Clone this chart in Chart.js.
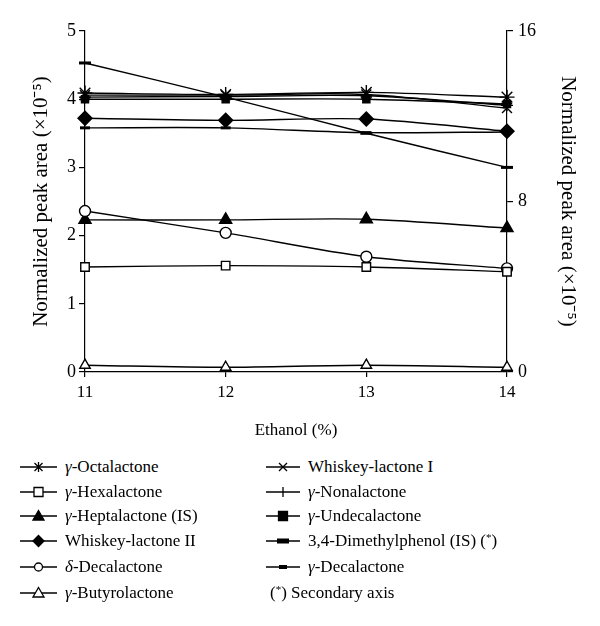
<!DOCTYPE html>
<html>
<head>
<meta charset="utf-8">
<script src="https://cdn.jsdelivr.net/npm/chart.js@4"></script>
<style>
  body { margin: 0; background: #fff; }
  #wrap { position: relative; width: 600px; height: 626px; font-family: "Liberation Serif", serif; }
  #chartBox { position: absolute; left: 0; top: 0; width: 600px; height: 445px; }
  .item { position: absolute; height: 22px; display: flex; align-items: center; font-size: 17px; color: #000; white-space: nowrap; }
  .item canvas { margin-right: 8px; }
  .item i { font-style: italic; }
  .item sup { font-size: 11px; vertical-align: 5px; }
</style>
</head>
<body>
<div id="wrap">
  <div id="chartBox"><canvas id="peakChart"></canvas></div>
  <div id="legend"></div>
</div>
<script>
const ethanol = ["11", "12", "13", "14"];

// left axis (x10^-5)
const octalactone = [4.09, 4.07, 4.10, 4.03];
const hexalactone = [1.54, 1.56, 1.54, 1.47];
const heptalactone = [2.23, 2.23, 2.24, 2.11];
const whiskeyLactone2 = [3.72, 3.69, 3.71, 3.53];
const deltaDecalactone = [2.36, 2.04, 1.69, 1.52];
const butyrolactone = [0.10, 0.07, 0.10, 0.07];
const whiskeyLactone1 = [4.06, 4.06, 4.07, 3.87];
const nonalactone = [4.03, 4.04, 4.05, 3.91];
const undecalactone = [4.00, 4.00, 4.00, 3.93];
const gammaDecalactone = [3.58, 3.58, 3.51, 3.52];
// secondary axis
const dimethylphenol = [14.5, 12.9, 11.2, 9.6];

const leftTicks = [0, 1, 2, 3, 4, 5];
const rightTicks = [0, 8, 16];

const serif = "'Liberation Serif', serif";

function series(label, data, style, filled, radius, axis) {
  return {
    label: label,
    data: data,
    yAxisID: axis || "y",
    borderColor: "#000",
    backgroundColor: filled ? "#000" : "#fff",
    borderWidth: 1.4,
    tension: 0.3,
    pointStyle: style,
    pointRadius: radius,
    pointBorderWidth: style === "line" ? 3 : 1.4,
    pointHoverRadius: radius,
    fill: false
  };
}

const datasets = [
  series("γ-Butyrolactone", butyrolactone, "triangle", false, 6),
  series("γ-Hexalactone", hexalactone, "rect", false, 6),
  series("δ-Decalactone", deltaDecalactone, "circle", false, 5.5),
  series("γ-Heptalactone (IS)", heptalactone, "triangle", true, 7),
  series("γ-Decalactone", gammaDecalactone, "line", true, 5),
  series("Whiskey-lactone II", whiskeyLactone2, "rectRot", true, 7),
  series("3,4-Dimethylphenol (IS) (*)", dimethylphenol, "line", true, 6, "y2"),
  series("γ-Undecalactone", undecalactone, "rect", true, 5),
  series("γ-Nonalactone", nonalactone, "cross", false, 6),
  series("Whiskey-lactone I", whiskeyLactone1, "crossRot", false, 7),
  series("γ-Octalactone", octalactone, "star", false, 7.5)
];

new Chart(document.getElementById("peakChart"), {
  type: "line",
  data: { labels: ethanol, datasets: datasets },
  options: {
    responsive: true,
    maintainAspectRatio: false,
    animation: false,
    events: [],
    layout: { padding: { top: 31, left: 0, right: 0, bottom: 0 } },
    plugins: { legend: { display: false }, tooltip: { enabled: false } },
    scales: {
      x: {
        type: "category",
        offset: false,
        border: { display: true, color: "#000", width: 1.2 },
        grid: { drawOnChartArea: false, color: "#000", tickLength: 5, lineWidth: 1.2 },
        ticks: { color: "#000", font: { family: serif, size: 17 }, padding: 5, maxRotation: 0 },
        title: { display: true, text: "Ethanol (%)", color: "#000", font: { family: serif, size: 17 }, padding: { top: 0, bottom: 4 } },
        afterFit: function (s) { s.height = 73; }
      },
      y: {
        position: "left",
        min: 0, max: 5,
        afterBuildTicks: function (s) { s.ticks = leftTicks.map(v => ({ value: v })); },
        border: { display: true, color: "#000", width: 1.2 },
        grid: { drawOnChartArea: false, color: "#000", tickLength: 6, lineWidth: 1.2 },
        ticks: { color: "#000", font: { family: serif, size: 18 }, padding: 3 },
        title: { display: true, text: "Normalized peak area (×10⁻⁵)", color: "#000", font: { family: serif, size: 21 }, padding: { top: 29, bottom: 0 } },
        afterFit: function (s) { s.width = 85; }
      },
      y2: {
        position: "right",
        min: 0, max: 16,
        afterBuildTicks: function (s) { s.ticks = rightTicks.map(v => ({ value: v })); },
        border: { display: true, color: "#000", width: 1.2 },
        grid: { drawOnChartArea: false, color: "#000", tickLength: 6, lineWidth: 1.2 },
        ticks: { color: "#000", font: { family: serif, size: 18 }, padding: 5 },
        title: { display: true, text: "Normalized peak area (×10⁻⁵)", color: "#000", font: { family: serif, size: 21 }, padding: { top: 20, bottom: 0 } },
        afterFit: function (s) { s.width = 93; }
      }
    }
  }
});

// legend, drawn by hand so each sample is a line through its marker
const legendLeft = [
  ["<i>γ</i>-Octalactone", "star", false],
  ["<i>γ</i>-Hexalactone", "rect", false],
  ["<i>γ</i>-Heptalactone (IS)", "triangle", true],
  ["Whiskey-lactone II", "rectRot", true],
  ["<i>δ</i>-Decalactone", "circle", false],
  ["<i>γ</i>-Butyrolactone", "triangle", false]
];
const legendRight = [
  ["Whiskey-lactone I", "crossRot", false],
  ["<i>γ</i>-Nonalactone", "cross", false],
  ["<i>γ</i>-Undecalactone", "rect", true],
  ["3,4-Dimethylphenol (IS) (<sup>*</sup>)", "bigDash", true],
  ["<i>γ</i>-Decalactone", "smallDash", true],
  ["(<sup>*</sup>) Secondary axis", null, false]
];
const rowY = [467, 492, 516, 541, 567, 593];

function drawSample(cv, style, filled) {
  const ctx = cv.getContext("2d");
  const w = cv.width, h = cv.height, cx = w / 2, cy = h / 2;
  ctx.strokeStyle = "#000";
  ctx.fillStyle = filled ? "#000" : "#fff";
  ctx.lineWidth = 1.3;
  ctx.beginPath(); ctx.moveTo(0, cy); ctx.lineTo(w, cy); ctx.stroke();
  const r = 5;
  ctx.beginPath();
  if (style === "star" || style === "crossRot" || style === "cross") {
    if (style !== "crossRot") { ctx.moveTo(cx, cy - r); ctx.lineTo(cx, cy + r); }
    if (style !== "cross") {
      ctx.moveTo(cx - r * 0.8, cy - r * 0.8); ctx.lineTo(cx + r * 0.8, cy + r * 0.8);
      ctx.moveTo(cx - r * 0.8, cy + r * 0.8); ctx.lineTo(cx + r * 0.8, cy - r * 0.8);
    }
    ctx.stroke();
  } else if (style === "rect") {
    ctx.rect(cx - 4.5, cy - 4.5, 9, 9); ctx.fill(); ctx.stroke();
  } else if (style === "triangle") {
    ctx.moveTo(cx, cy - 5.5); ctx.lineTo(cx + 5.5, cy + 4); ctx.lineTo(cx - 5.5, cy + 4); ctx.closePath();
    ctx.fill(); ctx.stroke();
  } else if (style === "rectRot") {
    ctx.moveTo(cx, cy - 5.5); ctx.lineTo(cx + 5.5, cy); ctx.lineTo(cx, cy + 5.5); ctx.lineTo(cx - 5.5, cy); ctx.closePath();
    ctx.fill(); ctx.stroke();
  } else if (style === "circle") {
    ctx.arc(cx, cy, 4, 0, Math.PI * 2); ctx.fill(); ctx.stroke();
  } else if (style === "bigDash") {
    ctx.fillStyle = "#000"; ctx.fillRect(cx - 6, cy - 2.5, 12, 5);
  } else if (style === "smallDash") {
    ctx.fillStyle = "#000"; ctx.fillRect(cx - 4, cy - 2, 8, 4);
  }
}

function addLegend(list, left, sampleW) {
  const box = document.getElementById("legend");
  list.forEach(function (entry, i) {
    const item = document.createElement("div");
    item.className = "item";
    item.style.left = left + "px";
    item.style.top = (rowY[i] - 11) + "px";
    if (entry[1]) {
      const cv = document.createElement("canvas");
      cv.width = sampleW; cv.height = 16;
      drawSample(cv, entry[1], entry[2]);
      item.appendChild(cv);
    }
    const span = document.createElement("span");
    span.innerHTML = entry[0];
    item.appendChild(span);
    box.appendChild(item);
  });
}
addLegend(legendLeft, 20, 37);
addLegend(legendRight.slice(0, 5), 266, 34);
addLegend([legendRight[5]], 270, 0);
document.querySelector("#legend .item:last-child").style.top = (rowY[5] - 11) + "px";
</script>
</body>
</html>
